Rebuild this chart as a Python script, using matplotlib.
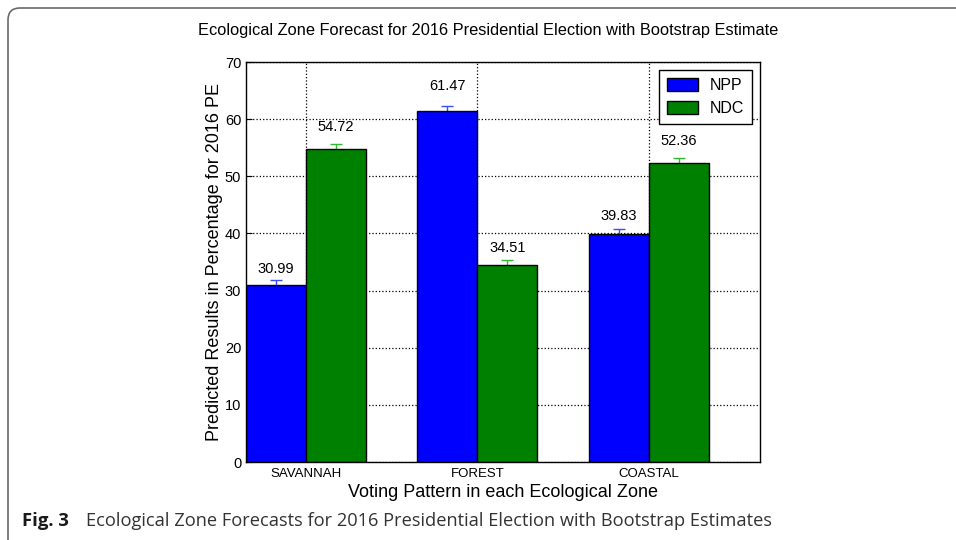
import numpy as np
import matplotlib
matplotlib.use("Agg")
import matplotlib.pyplot as plt
from matplotlib.patches import FancyBboxPatch

# dados
zones = ["SAVANNAH", "FOREST", "COASTAL"]
npp = [30.99, 61.47, 39.83]
ndc = [54.72, 34.51, 52.36]
npp_err = [0.9, 0.9, 0.9]
ndc_err = [0.9, 0.9, 0.9]

plt.rcParams["font.family"] = ["Liberation Sans", "DejaVu Sans"]

fig = plt.figure(figsize=(9.56, 5.4), dpi=100)
ax = fig.add_axes([246 / 956, 78 / 540, 514 / 956, 400 / 540])

ind = np.arange(len(zones))
w = 0.35

ax.bar(ind, npp, w, align="edge", color="#0000ff", edgecolor="black",
       linewidth=1.0, label="NPP", zorder=2)
ax.bar(ind + w, ndc, w, align="edge", color="#008000", edgecolor="black",
       linewidth=1.0, label="NDC", zorder=2)
# barras de erro atrás das barras (só a parte de cima aparece)
ax.errorbar(ind + w / 2, npp, yerr=npp_err, fmt="none", ecolor="#3a4cff",
            capsize=4, elinewidth=1.0, zorder=1.5)
ax.errorbar(ind + 1.5 * w, ndc, yerr=ndc_err, fmt="none", ecolor="#33b833",
            capsize=4, elinewidth=1.0, zorder=1.5)

# rótulos dos valores
for x, h in zip(ind + w / 2, npp):
    ax.text(x, 1.05 * h, f"{h:.2f}", ha="center", va="bottom", fontsize=10.5)
for x, h in zip(ind + 1.5 * w, ndc):
    ax.text(x, 1.05 * h, f"{h:.2f}", ha="center", va="bottom", fontsize=10.5)

ax.set_xlim(0, 3)
ax.set_ylim(0, 70)
ax.set_xticks(ind + w)
ax.set_xticklabels(zones, fontsize=9.5)
ax.set_yticks(np.arange(0, 71, 10))
ax.tick_params(axis="y", labelsize=10.5, direction="in", length=4)
ax.tick_params(axis="x", direction="in", length=0, pad=4)
ax.grid(True, color="black", linestyle=":", linewidth=0.9, zorder=0)
ax.set_axisbelow(True)
for sp in ax.spines.values():
    sp.set_linewidth(1.0)

ax.set_xlabel("Voting Pattern in each Ecological Zone", fontsize=13, labelpad=3.5)
ax.set_ylabel("Predicted Results in Percentage for 2016 PE", fontsize=13, labelpad=1.5)
fig.text(488 / 956, 1 - 31 / 540,
         "Ecological Zone Forecast for 2016 Presidential Election with Bootstrap Estimate",
         ha="center", va="center", fontsize=11.8)

leg = ax.legend(loc="upper right", fontsize=11.5, fancybox=False, framealpha=1,
                edgecolor="black", handlelength=2.0, handleheight=0.9,
                handletextpad=0.7, borderpad=0.5)
leg.get_frame().set_linewidth(1.0)

# moldura da figura (estilo artigo)
frame = FancyBboxPatch((8, -30), 1000, 562, boxstyle="round,pad=0,rounding_size=12",
                       transform=None, fill=False, edgecolor="#6a6a6a", linewidth=1.2)
fig.patches.append(frame)

# legenda da figura
fig.text(22 / 956, 1 - 521 / 540, "Fig. 3", fontsize=13.3, fontweight="bold",
         family="Open Sans", va="center", ha="left", color="#1a1a1a")
fig.text(86 / 956, 1 - 521 / 540,
         "Ecological Zone Forecasts for 2016 Presidential Election with Bootstrap Estimates",
         fontsize=13.15, family="Open Sans", va="center", ha="left", color="#333333")

fig.savefig("out.png", dpi=100)
